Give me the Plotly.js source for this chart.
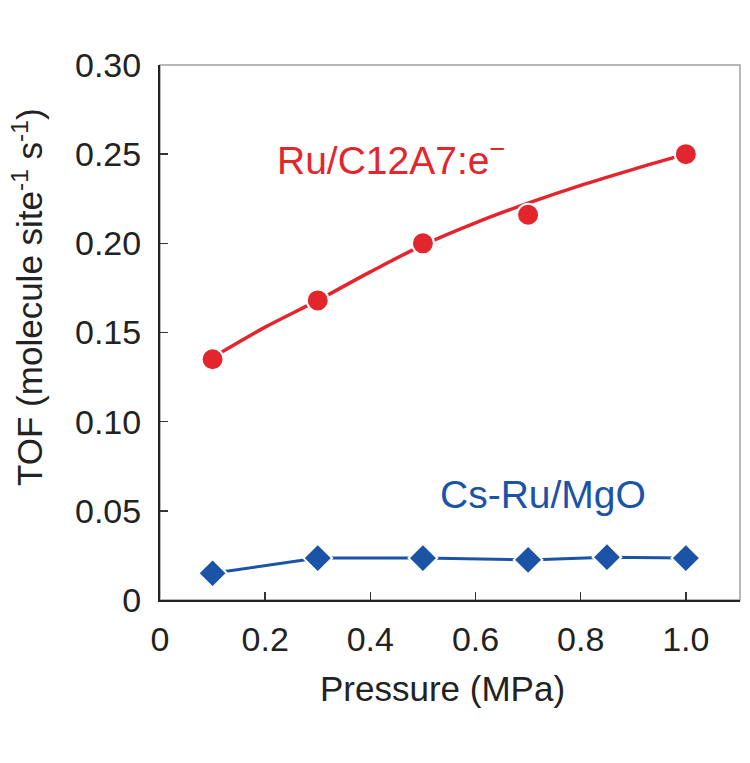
<!DOCTYPE html>
<html>
<head>
<meta charset="utf-8">
<script src="https://cdn.plot.ly/plotly-3.0.1.min.js"></script>
<style>html,body{margin:0;padding:0;background:#fff;}#chart{width:750px;height:763px;}</style>
</head>
<body>
<div id="chart"></div>
<script>
// Ru/C12A7:e- measured points
const ruPressure = [0.1, 0.3, 0.5, 0.7, 1.0];
const ruTOF = [0.135, 0.168, 0.200, 0.216, 0.250];
// Ru/C12A7:e- fitted curve
const ruFitPressure = [0.1, 0.2, 0.3, 0.4, 0.5, 0.6, 0.7, 0.8, 0.9, 1.0];
const ruFitTOF = [0.136, 0.153, 0.168, 0.184, 0.199, 0.2115, 0.2225, 0.2325, 0.2415, 0.250];
// Cs-Ru/MgO
const csPressure = [0.1, 0.3, 0.5, 0.7, 0.85, 1.0];
const csTOF = [0.015, 0.0235, 0.0235, 0.0225, 0.024, 0.0235];
// ticks
const xTickVals = [0, 0.2, 0.4, 0.6, 0.8, 1.0];
const xTickText = ["0", "0.2", "0.4", "0.6", "0.8", "1.0"];
const yTickVals = [0, 0.05, 0.10, 0.15, 0.20, 0.25, 0.30];
const yTickText = ["0", "0.05", "0.10", "0.15", "0.20", "0.25", "0.30"];

const RED = "#e3262d";
const BLUE = "#1b53a6";
const FONT = "Liberation Sans, Arial, sans-serif";

const traces = [
  {x: ruFitPressure, y: ruFitTOF, mode: "lines", line: {color: RED, width: 3.5, shape: "spline"}, hoverinfo: "skip"},
  {x: ruPressure, y: ruTOF, mode: "markers", marker: {color: RED, size: 22, symbol: "circle", line: {color: "#fff", width: 2}}},
  {x: csPressure, y: csTOF, mode: "lines+markers", line: {color: BLUE, width: 3}, marker: {color: BLUE, size: 22, symbol: "diamond", line: {color: "#fff", width: 2}}}
];

const layout = {
  width: 750, height: 763,
  margin: {l: 160, r: 10, t: 65, b: 163},
  paper_bgcolor: "#fff", plot_bgcolor: "#fff",
  showlegend: false,
  font: {family: FONT, color: "#222"},
  xaxis: {
    range: [0, 1.103], showgrid: false, zeroline: false,
    showline: true, linecolor: "#222", linewidth: 2,
    ticks: "inside", ticklen: 8, tickwidth: 1.5, tickcolor: "#333",
    tickvals: xTickVals, ticktext: xTickText,
    tickfont: {size: 34, color: "#222", family: FONT},
    ticklabelstandoff: 8
  },
  yaxis: {
    range: [0, 0.30], showgrid: false, zeroline: false,
    showline: true, linecolor: "#222", linewidth: 2,
    ticks: "inside", ticklen: 8, tickwidth: 1.5, tickcolor: "#333",
    tickvals: yTickVals, ticktext: yTickText,
    tickfont: {size: 34, color: "#222", family: FONT},
    ticklabelstandoff: 10
  },
  shapes: [
    {type: "rect", xref: "paper", yref: "paper", x0: 0, x1: 1, y0: 0, y1: 1, line: {color: "#a0a0a0", width: 1.5}, layer: "below"}
  ],
  annotations: [
    {text: "Pressure (MPa)", xref: "paper", yref: "paper", x: 0.487, y: -0.165, xanchor: "center", yanchor: "middle", showarrow: false, font: {size: 35, color: "#222", family: FONT}},
    {text: "TOF (molecule site<sup>-1</sup> s<sup>-1</sup>)", xref: "paper", yref: "paper", x: -0.228, y: 0.566, xanchor: "center", yanchor: "middle", textangle: -90, showarrow: false, font: {size: 35, color: "#222", family: FONT}},
    {text: "Ru/C12A7:e<sup>−</sup>", xref: "x", yref: "y", x: 0.44, y: 0.248, xanchor: "center", yanchor: "middle", showarrow: false, font: {size: 39, color: RED, family: FONT}},
    {text: "Cs-Ru/MgO", xref: "x", yref: "y", x: 0.728, y: 0.059, xanchor: "center", yanchor: "middle", showarrow: false, font: {size: 39, color: BLUE, family: FONT}}
  ]
};

Plotly.newPlot("chart", traces, layout, {displayModeBar: false, staticPlot: true});
</script>
</body>
</html>
